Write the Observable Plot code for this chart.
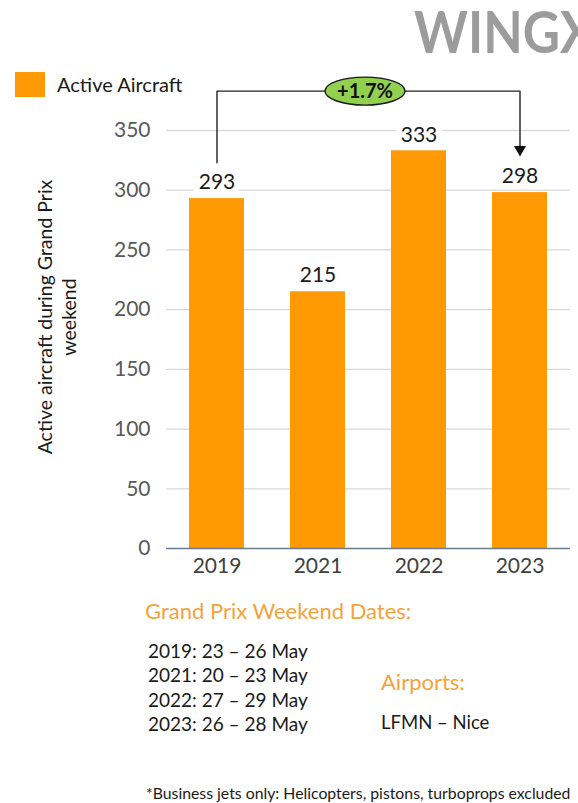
<!DOCTYPE html>
<html><head><meta charset="utf-8">
<script src="https://cdn.jsdelivr.net/npm/d3@7"></script>
<script src="https://cdn.jsdelivr.net/npm/@observablehq/plot@0.6"></script>
<style>
html,body{margin:0;padding:0;background:#fff;}
#wrap{position:relative;width:578px;height:803px;overflow:hidden;font-family:Lato,"Open Sans",sans-serif;}
#wrap svg{position:absolute;left:0;top:0;}
.abs{position:absolute;white-space:nowrap;line-height:1;}
</style></head>
<body><div id="wrap"></div>
<script>
const years = ["2019", "2021", "2022", "2023"];
const activeAircraft = [293, 215, 333, 298];
const yTicks = [0, 50, 100, 150, 200, 250, 300, 350];
const changeLabel = "+1.7%";
const seriesName = "Active Aircraft";
const yTitle = ["Active aircraft during Grand Prix", "weekend"];
const datesTitle = "Grand Prix Weekend Dates:";
const dates = ["2019: 23 – 26 May", "2021: 20 – 23 May", "2022: 27 – 29 May", "2023: 26 – 28 May"];
const airportsTitle = "Airports:";
const airports = ["LFMN – Nice"];
const footnote = "*Business jets only: Helicopters, pistons, turboprops excluded";
const brand = "WINGX";
// bracket annotation (data units)
const bracket = [
  {year: "2019", v: 323},
  {year: "2019", v: 383},
  {year: "2023", v: 383},
  {year: "2023", v: 334}
];

const data = years.map((y, i) => ({year: y, value: activeAircraft[i]}));
const ORANGE = "#ff9a05";

const ellipse = {
  draw(ctx, size) {
    const rx = 40, ry = 14, k = 0.5523;
    ctx.moveTo(rx, 0);
    ctx.bezierCurveTo(rx, ry * k, rx * k, ry, 0, ry);
    ctx.bezierCurveTo(-rx * k, ry, -rx, ry * k, -rx, 0);
    ctx.bezierCurveTo(-rx, -ry * k, -rx * k, -ry, 0, -ry);
    ctx.bezierCurveTo(rx * k, -ry, rx, -ry * k, rx, 0);
    ctx.closePath();
  }
};

const plot = Plot.plot({
  width: 578,
  height: 803,
  marginTop: 130,
  marginBottom: 255,
  marginLeft: 166,
  marginRight: 8,
  style: {fontFamily: "Lato, 'Open Sans', sans-serif", background: "transparent", overflow: "visible"},
  x: {type: "band", domain: years, paddingInner: 0.455, paddingOuter: 0.2275, label: null},
  y: {domain: [0, 350], label: null},
  marks: [
    Plot.ruleY(yTicks.filter(d => d > 0), {stroke: "#d9d9d9", strokeWidth: 1.3}),
    Plot.barY(data, {x: "year", y: "value", fill: ORANGE}),
    Plot.ruleY([0], {stroke: "#6b7a8c", strokeWidth: 1.3}),
    Plot.axisY({ticks: yTicks, tickSize: 0, tickPadding: 16, fontSize: 21, fill: "#595959", label: null}),
    Plot.axisX({tickSize: 0, tickPadding: 10, fontSize: 21, fill: "#404040", label: null}),
    Plot.text(data, {x: "year", y: "value", text: d => String(d.value), dy: -16, fontSize: 21, fill: "#1a1a1a", stroke: "white", strokeWidth: 12, paintOrder: "stroke"}),
    Plot.line(bracket, {x: "year", y: "v", stroke: "#222", strokeWidth: 1.4}),
    Plot.dot([bracket[3]], {x: "year", y: "v", symbol: "triangle", rotate: 180, r: 4.5, fill: "#111", stroke: "none"}),
    Plot.dot([bracket[1]], {x: "year", y: "v", symbol: ellipse, fill: "#92d050", stroke: "#1a1a1a", strokeWidth: 1.4, dx: 148}),
    Plot.text([bracket[1]], {x: "year", y: "v", text: () => changeLabel, dx: 148, dy: 1, fontSize: 20, fontWeight: "bold", fill: "#111"})
  ]
});

const wrap = document.getElementById("wrap");
wrap.appendChild(plot);

function addText(txt, left, top, size, color, extra = "") {
  const d = document.createElement("div");
  d.className = "abs";
  d.textContent = txt;
  d.style.cssText += `left:${left}px;top:${top}px;font-size:${size}px;color:${color};${extra}`;
  wrap.appendChild(d);
  return d;
}

// brand
addText(brand, 414, 3, 57, "#9c9c9c", "font-weight:700;transform:scaleX(0.9);transform-origin:0 0;");
// legend
const sw = document.createElement("div");
sw.className = "abs";
sw.style.cssText += `left:15px;top:72px;width:30px;height:25px;background:${ORANGE};`;
wrap.appendChild(sw);
addText(seriesName, 57, 74, 20, "#1a1a1a");
// y title (rotated)
const yt = document.createElement("div");
yt.className = "abs";
yt.style.cssText += "left:57px;top:317px;font-size:19.5px;color:#1a1a1a;text-align:center;line-height:24px;transform:translate(-50%,-50%) rotate(-90deg);";
yt.innerHTML = yTitle.join("<br>");
wrap.appendChild(yt);
// bottom texts
addText(datesTitle, 145, 600, 22, "#f4a33a");
dates.forEach((t, i) => addText(t, 148, 640.5 + i * 24.5, 19, "#1a1a1a"));
addText(airportsTitle, 381, 671, 22, "#f4a33a");
airports.forEach((t, i) => addText(t, 381, 712.5 + i * 24, 18.5, "#1a1a1a"));
addText(footnote, 146, 785, 15.8, "#1a1a1a");
</script>
</body></html>
